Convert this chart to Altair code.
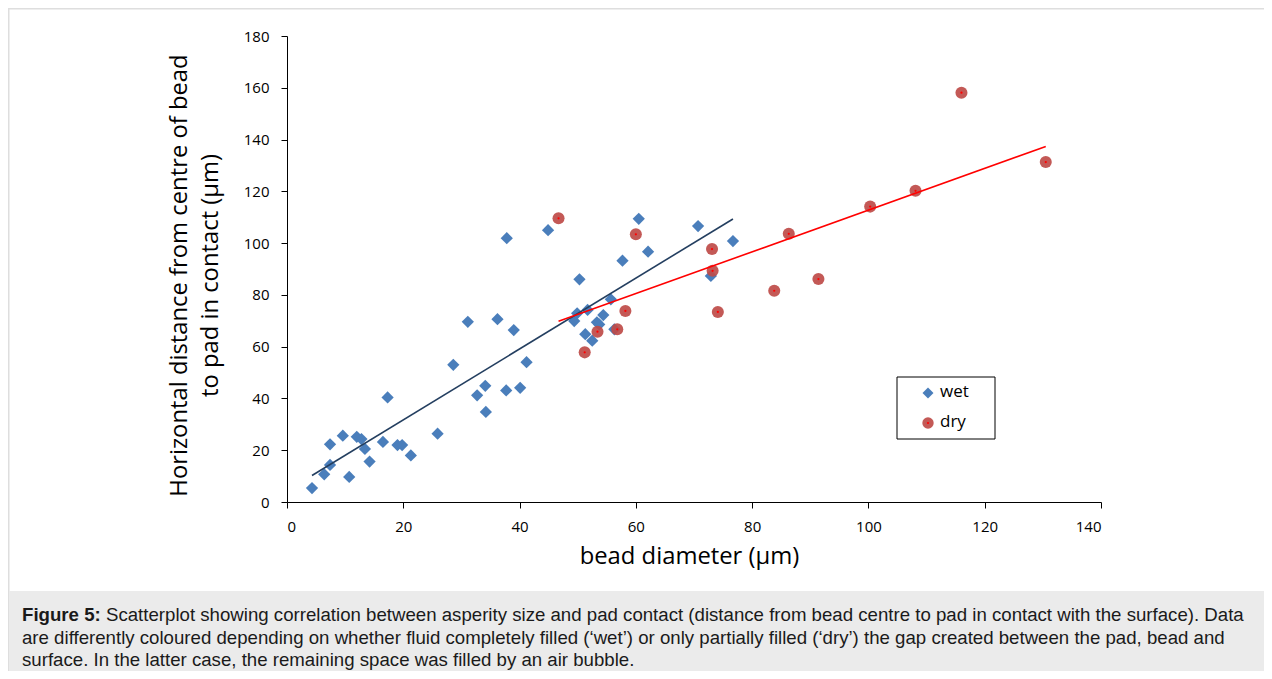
import altair as alt
import pandas as pd

# ---------------- data ----------------
wet_x = [4.3, 6.4, 7.4, 7.4, 9.6, 10.7, 12.0, 12.8, 13.4, 14.2, 16.5, 17.3, 19.0, 19.8,
         21.3, 25.9, 28.6, 31.1, 32.7, 34.1, 34.2, 36.2, 37.8, 37.7, 39.0, 40.1, 41.2,
         44.9, 49.4, 49.9, 50.3, 51.3, 51.7, 52.5, 53.3, 53.7, 54.4, 55.7, 56.3, 57.7,
         60.5, 62.1, 70.7, 72.9, 76.7]
wet_y = [5.4, 10.7, 14.3, 22.3, 25.6, 9.7, 25.2, 24.3, 20.5, 15.6, 23.2, 40.4, 22.0, 22.0,
         18.0, 26.4, 53.0, 69.6, 41.2, 44.9, 34.8, 70.6, 101.9, 43.1, 66.4, 44.1, 54.0,
         105.0, 69.9, 72.9, 86.0, 64.8, 74.2, 62.3, 69.4, 68.6, 72.2, 78.3, 66.7, 93.2,
         109.4, 96.7, 106.6, 87.3, 100.8]
dry_x = [46.7, 51.2, 53.4, 56.8, 58.2, 60.0, 73.1, 73.2, 74.1, 83.8, 86.3, 91.4, 100.3,
         108.1, 116.0, 130.5]
dry_y = [109.6, 57.8, 65.8, 66.7, 73.8, 103.4, 97.7, 89.3, 73.4, 81.6, 103.6, 86.1, 114.1,
         120.2, 158.1, 131.3]

series_names = ["wet", "dry"]
x_ticks = [0, 20, 40, 60, 80, 100, 120, 140]
y_ticks = [0, 20, 40, 60, 80, 100, 120, 140, 160, 180]
x_title = "bead diameter (µm)"
y_title = ["Horizontal distance from centre of bead", "to pad in contact (µm)"]
caption_bold = "Figure 5:"
caption_line1 = ("Scatterplot showing correlation between asperity size and pad contact "
                 "(distance from bead centre to pad in contact with the surface). Data")
caption_rest = ["are differently coloured depending on whether fluid completely filled (\u2018wet\u2019) "
                "or only partially filled (\u2018dry\u2019) the gap created between the pad, bead and",
                "surface. In the latter case, the remaining space was filled by an air bubble."]

# ---------------- styling ----------------
W, H = 814, 466
PAD_L, PAD_T = 279, 28
WET_COLOR = "#4a7ebb"
DRY_COLOR = "#be4b48"
WET_LINE = "#243f60"
DRY_LINE = "#ff0000"
FONT = "Open Sans"
CAP_FONT = "Liberation Sans"
CAP_SIZE = 18.65

wet_df = pd.DataFrame({"d": wet_x, "h": wet_y, "series": series_names[0]})
dry_df = pd.DataFrame({"d": dry_x, "h": dry_y, "series": series_names[1]})
one = pd.DataFrame({"k": [0]})

xs = alt.Scale(domain=[0, 140], nice=False, zero=False)
ys = alt.Scale(domain=[0, 180], nice=False, zero=False)

x_axis = alt.Axis(values=x_ticks, title=x_title, grid=False, tickSize=6, labelPadding=11,
                  titleX=402, titleY=61, titleBaseline="alphabetic", titleAnchor="start",
                  titleAlign="center")
y_axis = alt.Axis(values=y_ticks, title=y_title, grid=False, tickSize=6, labelPadding=12,
                  titleX=-101, titleY=239, titleAngle=270, titleBaseline="alphabetic",
                  titleAnchor="start", titleAlign="center", titleLineHeight=31)


def X():
    return alt.X("d:Q", scale=xs, axis=x_axis)


def Y():
    return alt.Y("h:Q", scale=ys, axis=y_axis)


# decorations (figure frame and caption box)
frame_top = alt.Chart(one).mark_rule(color="#dedede", strokeWidth=2).encode(
    x=alt.value(-PAD_L), x2=alt.value(W + 163), y=alt.value(-PAD_T + 0.5))
frame_left = alt.Chart(one).mark_rule(color="#dedede", strokeWidth=2).encode(
    x=alt.value(-PAD_L + 0.5), y=alt.value(-PAD_T), y2=alt.value(H + 169))
cap_box = alt.Chart(one).mark_rect(color="#ebebeb").encode(
    x=alt.value(-PAD_L + 1), x2=alt.value(W + 163), y=alt.value(555), y2=alt.value(H + 169))

cap_a = alt.Chart(one).mark_text(font=CAP_FONT, fontSize=CAP_SIZE, fontWeight="bold", align="left",
                                  baseline="alphabetic", color="#1a1a1a").encode(
    x=alt.value(-265), y=alt.value(585), text=alt.value(caption_bold))
cap_b = alt.Chart(one).mark_text(font=CAP_FONT, fontSize=CAP_SIZE, align="left",
                                  baseline="alphabetic", color="#1a1a1a").encode(
    x=alt.value(-265 + 84), y=alt.value(585), text=alt.value(caption_line1))
cap_c = alt.Chart(one).mark_text(font=CAP_FONT, fontSize=CAP_SIZE, align="left",
                                  baseline="alphabetic", color="#1a1a1a", lineHeight=22.5).encode(
    x=alt.value(-265), y=alt.value(607.5), text=alt.value(caption_rest))

# data layers
wet_pts = alt.Chart(wet_df).mark_point(shape="diamond", filled=True, size=150, opacity=1,
                                       color=WET_COLOR).encode(x=X(), y=Y())
dry_pts = alt.Chart(dry_df).mark_point(shape="circle", filled=True, size=145, opacity=0.92,
                                       color=DRY_COLOR).encode(x=X(), y=Y())
dry_dots = alt.Chart(dry_df).mark_point(shape="circle", filled=True, size=5, opacity=1,
                                        color="#ff0000").encode(x=X(), y=Y())
wet_fit = alt.Chart(wet_df).transform_regression("d", "h").mark_line(
    color=WET_LINE, strokeWidth=1.6).encode(x=X(), y=Y())
dry_fit = alt.Chart(dry_df).transform_regression("d", "h").mark_line(
    color=DRY_LINE, strokeWidth=1.6).encode(x=X(), y=Y())

# manual legend
leg_df = pd.DataFrame({"series": series_names})
LX, LY = 610, 341
leg_box = alt.Chart(one).mark_rect(fill="white", stroke="black", strokeWidth=1).encode(
    x=alt.value(LX), x2=alt.value(LX + 98), y=alt.value(LY), y2=alt.value(LY + 62))
leg_wet = alt.Chart(leg_df).transform_filter(alt.datum.series == series_names[0]).mark_point(
    shape="diamond", filled=True, size=120, opacity=1, color=WET_COLOR).encode(
    x=alt.value(LX + 31), y=alt.value(LY + 16))
leg_dry = alt.Chart(leg_df).transform_filter(alt.datum.series == series_names[1]).mark_point(
    shape="circle", filled=True, size=130, opacity=0.92, color=DRY_COLOR).encode(
    x=alt.value(LX + 31), y=alt.value(LY + 46))
leg_dry_dot = alt.Chart(leg_df).transform_filter(alt.datum.series == series_names[1]).mark_point(
    shape="circle", filled=True, size=5, opacity=1, color="#ff0000").encode(
    x=alt.value(LX + 31), y=alt.value(LY + 46))
leg_t_wet = alt.Chart(leg_df).transform_filter(alt.datum.series == series_names[0]).mark_text(
    font=FONT, fontSize=17, align="left", baseline="middle", color="black").encode(
    x=alt.value(LX + 43), y=alt.value(LY + 15), text="series:N")
leg_t_dry = alt.Chart(leg_df).transform_filter(alt.datum.series == series_names[1]).mark_text(
    font=FONT, fontSize=17, align="left", baseline="middle", color="black").encode(
    x=alt.value(LX + 43), y=alt.value(LY + 45), text="series:N")

chart = alt.layer(
    frame_top, frame_left, cap_box, cap_a, cap_b, cap_c,
    wet_pts, wet_fit, dry_pts, dry_dots, dry_fit,
    leg_box, leg_wet, leg_dry, leg_dry_dot, leg_t_wet, leg_t_dry
).properties(
    width=W, height=H,
    background="white",
    autosize=alt.AutoSizeParams(type="none"),
    padding={"left": PAD_L, "top": PAD_T, "right": 163, "bottom": 169},
).configure_view(strokeWidth=0, stroke="transparent").configure_axis(
    domainColor="black", tickColor="black", labelColor="black", titleColor="black",
    labelFont=FONT, labelFontSize=15, titleFont=FONT, titleFontSize=23.8,
    titleFontWeight="normal", domainWidth=1, tickWidth=1,
)

chart.save("out.html", embed_options={"renderer": "svg", "actions": False})
